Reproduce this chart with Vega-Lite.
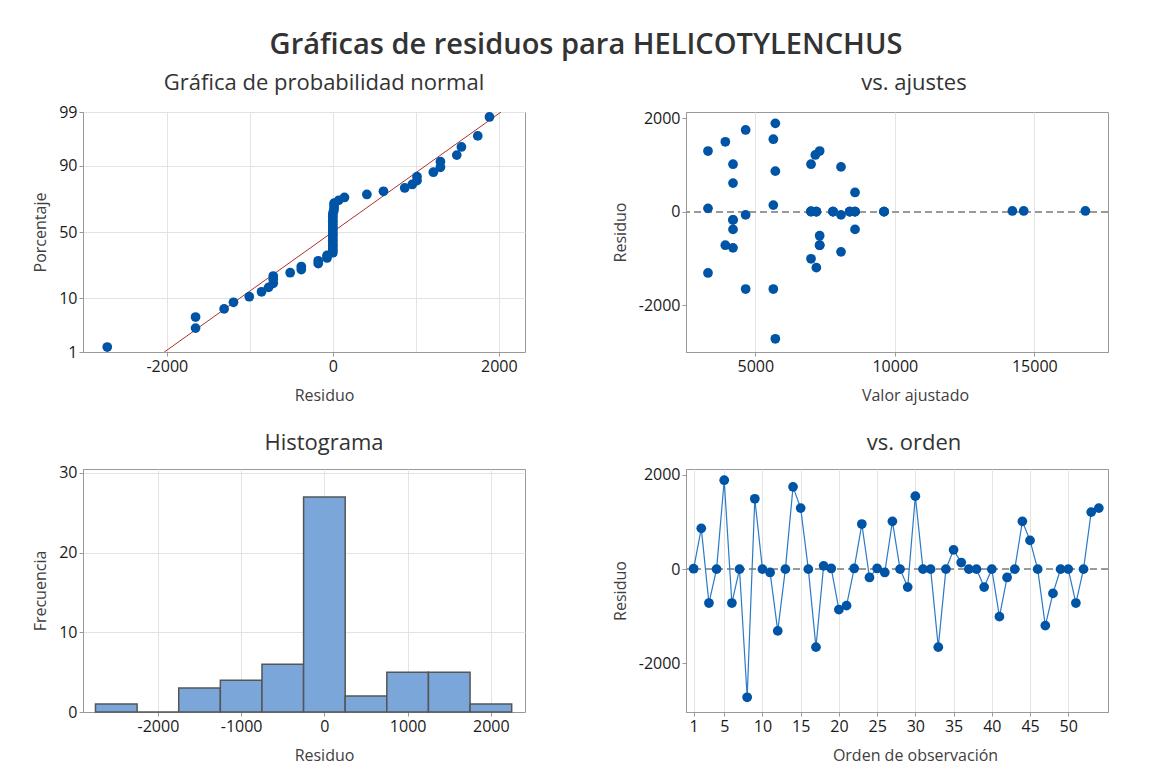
{
  "$schema": "https://vega.github.io/schema/vega-lite/v6.json",
  "background": "white",
  "padding": {"left": 32, "top": 30, "right": 5, "bottom": 5},
  "title": {"text": "Gráficas de residuos para HELICOTYLENCHUS", "fontSize": 29, "font": "Open Sans", "fontWeight": 600, "color": "#333333", "anchor": "middle", "frame": "group", "dx": 503, "offset": 12},
  "columns": 2,
  "spacing": {"row": 117, "column": 161},
  "bounds": "flush",
  "config": {
    "font": "Open Sans",
    "view": {"stroke": "#999999", "strokeWidth": 1},
    "axis": {"labelFontSize": 16, "labelColor": "#1a1a1a", "titleFontSize": 16, "titleFontWeight": "normal", "titleColor": "#404040", "gridColor": "#e3e3e3", "domainColor": "#999999", "tickColor": "#999999", "tickSize": 4, "labelPadding": 2, "titlePadding": 10},
    "axisX": {"titlePadding": 13},
    "title": {"fontSize": 22, "fontWeight": "normal", "color": "#333333", "offset": 10, "frame": "group", "anchor": "middle"}
  },
  "datasets": {
    "obs": [
      {"obs": 1, "fit": 6996, "res": 10}, {"obs": 2, "fit": 5717, "res": 866}, {"obs": 3, "fit": 3925, "res": -718},
      {"obs": 4, "fit": 7187, "res": 0}, {"obs": 5, "fit": 5717, "res": 1887}, {"obs": 6, "fit": 7306, "res": -718},
      {"obs": 7, "fit": 7784, "res": 0}, {"obs": 8, "fit": 5717, "res": -2718}, {"obs": 9, "fit": 3925, "res": 1493},
      {"obs": 10, "fit": 8382, "res": 0}, {"obs": 11, "fit": 4653, "res": -70}, {"obs": 12, "fit": 3303, "res": -1310},
      {"obs": 13, "fit": 8573, "res": 0}, {"obs": 14, "fit": 4653, "res": 1746}, {"obs": 15, "fit": 3303, "res": 1296},
      {"obs": 16, "fit": 9613, "res": 0}, {"obs": 17, "fit": 4653, "res": -1654}, {"obs": 18, "fit": 3303, "res": 70},
      {"obs": 19, "fit": 14213, "res": 15}, {"obs": 20, "fit": 8071, "res": -859}, {"obs": 21, "fit": 4200, "res": -774},
      {"obs": 22, "fit": 14619, "res": 15}, {"obs": 23, "fit": 8071, "res": 957}, {"obs": 24, "fit": 4200, "res": -176},
      {"obs": 25, "fit": 16830, "res": 15}, {"obs": 26, "fit": 8071, "res": -70}, {"obs": 27, "fit": 6996, "res": 1014},
      {"obs": 28, "fit": 6996, "res": 0}, {"obs": 29, "fit": 4200, "res": -380}, {"obs": 30, "fit": 5645, "res": 1549},
      {"obs": 31, "fit": 7187, "res": 0}, {"obs": 32, "fit": 7784, "res": 0}, {"obs": 33, "fit": 5645, "res": -1654},
      {"obs": 34, "fit": 8382, "res": 0}, {"obs": 35, "fit": 8573, "res": 410}, {"obs": 36, "fit": 5645, "res": 140},
      {"obs": 37, "fit": 8573, "res": 0}, {"obs": 38, "fit": 9613, "res": 0}, {"obs": 39, "fit": 8573, "res": -380},
      {"obs": 40, "fit": 6996, "res": 0}, {"obs": 41, "fit": 6996, "res": -1007}, {"obs": 42, "fit": 4200, "res": -176},
      {"obs": 43, "fit": 7187, "res": 0}, {"obs": 44, "fit": 4200, "res": 1014}, {"obs": 45, "fit": 4200, "res": 610},
      {"obs": 46, "fit": 7784, "res": 0}, {"obs": 47, "fit": 7187, "res": -1197}, {"obs": 48, "fit": 7306, "res": -514},
      {"obs": 49, "fit": 8382, "res": 0}, {"obs": 50, "fit": 8573, "res": 0}, {"obs": 51, "fit": 7306, "res": -718},
      {"obs": 52, "fit": 9613, "res": 0}, {"obs": 53, "fit": 7150, "res": 1211}, {"obs": 54, "fit": 7306, "res": 1296}
    ],
    "normal": [
      {"res": -2718, "z": -2.230}, {"res": -1654, "z": -1.863}, {"res": -1654, "z": -1.648}, {"res": -1310, "z": -1.491},
      {"res": -1197, "z": -1.363}, {"res": -1007, "z": -1.255}, {"res": -859, "z": -1.159}, {"res": -774, "z": -1.073},
      {"res": -718, "z": -0.995}, {"res": -718, "z": -0.922}, {"res": -718, "z": -0.854}, {"res": -514, "z": -0.789},
      {"res": -380, "z": -0.728}, {"res": -380, "z": -0.669}, {"res": -176, "z": -0.612}, {"res": -176, "z": -0.558},
      {"res": -70, "z": -0.504}, {"res": -70, "z": -0.453}, {"res": 0, "z": -0.402}, {"res": 0, "z": -0.353},
      {"res": 0, "z": -0.304}, {"res": 0, "z": -0.256}, {"res": 0, "z": -0.209}, {"res": 0, "z": -0.162},
      {"res": 0, "z": -0.115}, {"res": 0, "z": -0.069}, {"res": 0, "z": -0.023}, {"res": 0, "z": 0.023},
      {"res": 0, "z": 0.069}, {"res": 0, "z": 0.115}, {"res": 0, "z": 0.162}, {"res": 0, "z": 0.209},
      {"res": 0, "z": 0.256}, {"res": 0, "z": 0.304}, {"res": 0, "z": 0.353}, {"res": 10, "z": 0.402},
      {"res": 15, "z": 0.453}, {"res": 15, "z": 0.504}, {"res": 15, "z": 0.558}, {"res": 70, "z": 0.612},
      {"res": 140, "z": 0.669}, {"res": 410, "z": 0.728}, {"res": 610, "z": 0.789}, {"res": 866, "z": 0.854},
      {"res": 957, "z": 0.922}, {"res": 1014, "z": 0.995}, {"res": 1014, "z": 1.073}, {"res": 1211, "z": 1.159},
      {"res": 1296, "z": 1.255}, {"res": 1296, "z": 1.363}, {"res": 1493, "z": 1.491}, {"res": 1549, "z": 1.648},
      {"res": 1746, "z": 1.863}, {"res": 1887, "z": 2.230}
    ],
    "fitline": [
      {"res": -2030, "z": -2.326}, {"res": 2026, "z": 2.326}
    ],
    "hist": [
      {"lo": -2750, "hi": -2250, "n": 1}, {"lo": -2250, "hi": -1750, "n": 0}, {"lo": -1750, "hi": -1250, "n": 3},
      {"lo": -1250, "hi": -750, "n": 4}, {"lo": -750, "hi": -250, "n": 6}, {"lo": -250, "hi": 250, "n": 27},
      {"lo": 250, "hi": 750, "n": 2}, {"lo": 750, "hi": 1250, "n": 5}, {"lo": 1250, "hi": 1750, "n": 5},
      {"lo": 1750, "hi": 2250, "n": 1}
    ]
  },
  "concat": [
    {
      "title": {"text": "Gráfica de probabilidad normal", "dx": 20, "offset": 9},
      "width": 442, "height": 240,
      "layer": [
        {
          "data": {"name": "fitline"},
          "mark": {"type": "line", "color": "#B0302A", "strokeWidth": 1, "clip": true},
          "encoding": {
            "x": {"field": "res", "type": "quantitative", "scale": {"domain": [-3010, 2315], "nice": false, "zero": false},
                  "axis": {"title": "Residuo", "titleX": 241, "values": [-2000, -1000, 0, 1000, 2000], "labelExpr": "datum.value % 2000 == 0 ? '' + datum.value : ''",
                           "tickColor": {"condition": {"test": "datum.value % 2000 != 0", "value": "transparent"}, "value": "#999999"}}},
            "y": {"field": "z", "type": "quantitative", "scale": {"domain": [-2.326, 2.326], "nice": false, "zero": false},
                  "axis": {"title": "Porcentaje", "values": [-2.326, -1.2816, 0, 1.2816, 2.326], "labelExpr": "datum.value < -2 ? '1' : datum.value < -1 ? '10' : datum.value < 1 ? '50' : datum.value < 2 ? '90' : '99'"}}
          }
        },
        {
          "data": {"name": "normal"},
          "mark": {"type": "point", "filled": true, "size": 95, "color": "#0054A6", "opacity": 1},
          "encoding": {
            "x": {"field": "res", "type": "quantitative"},
            "y": {"field": "z", "type": "quantitative"}
          }
        }
      ]
    },
    {
      "title": {"text": "vs. ajustes", "dx": 17, "offset": 15},
      "width": 422, "height": 240,
      "data": {"name": "obs"},
      "layer": [
        {
          "mark": {"type": "rule", "color": "#999999", "strokeDash": [7, 4], "strokeWidth": 1.3},
          "encoding": {"y": {"datum": 0, "type": "quantitative"}}
        },
        {
          "mark": {"type": "point", "filled": true, "size": 95, "color": "#0054A6", "opacity": 1},
          "encoding": {
            "x": {"field": "fit", "type": "quantitative", "scale": {"domain": [2515, 17640], "nice": false, "zero": false},
                  "axis": {"title": "Valor ajustado", "titleX": 229, "values": [5000, 10000, 15000], "labelExpr": "'' + datum.value"}},
            "y": {"field": "res", "type": "quantitative", "scale": {"domain": [-3000, 2130], "nice": false, "zero": false},
                  "axis": {"title": "Residuo", "values": [-2000, 0, 2000], "labelExpr": "'' + datum.value"}}
          }
        }
      ]
    },
    {
      "title": {"text": "Histograma", "dx": 20, "offset": 10},
      "width": 442, "height": 243,
      "data": {"name": "hist"},
      "mark": {"type": "bar", "color": "#7BA6D9", "stroke": "#555555", "strokeWidth": 1.5, "opacity": 1},
      "encoding": {
        "x": {"field": "lo", "type": "quantitative", "scale": {"domain": [-2900, 2410], "nice": false, "zero": false},
              "axis": {"title": "Residuo", "titleX": 241, "values": [-2000, -1000, 0, 1000, 2000], "labelExpr": "'' + datum.value"}},
        "x2": {"field": "hi"},
        "y": {"field": "n", "type": "quantitative", "scale": {"domain": [0, 30.5], "nice": false},
              "axis": {"title": "Frecuencia", "values": [0, 10, 20, 30]}},
        "y2": {"datum": 0}
      }
    },
    {
      "title": {"text": "vs. orden", "dx": 17, "offset": 12},
      "width": 422, "height": 243,
      "data": {"name": "obs"},
      "layer": [
        {
          "mark": {"type": "rule", "color": "#999999", "strokeDash": [7, 4], "strokeWidth": 1.3},
          "encoding": {"y": {"datum": 0, "type": "quantitative"}}
        },
        {
          "mark": {"type": "line", "color": "#2A7AC8", "strokeWidth": 1.2, "point": {"filled": true, "size": 95, "color": "#0054A6", "opacity": 1}},
          "encoding": {
            "x": {"field": "obs", "type": "quantitative", "scale": {"domain": [0, 55.2], "nice": false, "zero": false},
                  "axis": {"title": "Orden de observación", "titleX": 229, "values": [1, 5, 10, 15, 20, 25, 30, 35, 40, 45, 50]}},
            "y": {"field": "res", "type": "quantitative", "scale": {"domain": [-3030, 2125], "nice": false, "zero": false},
                  "axis": {"title": "Residuo", "values": [-2000, 0, 2000], "labelExpr": "'' + datum.value"}}
          }
        }
      ]
    }
  ]
}
